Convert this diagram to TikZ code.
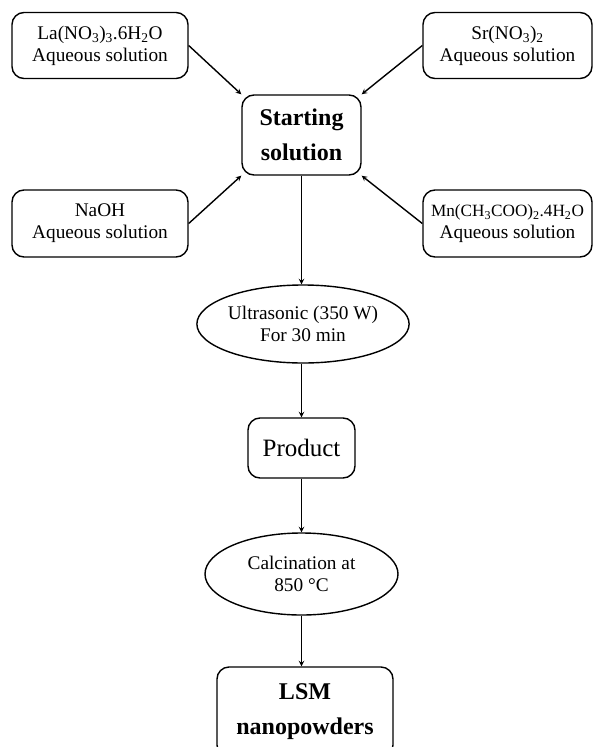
\documentclass[tikz,border=0pt]{standalone}
\usepackage{fontspec}
\setmainfont{Liberation Serif}
\usetikzlibrary{shapes.geometric, arrows, positioning}

\begin{document}
\begin{tikzpicture}[x=1pt, y=-1pt]
		\tikzstyle{Box} = [rectangle, rounded corners=12pt, align=center, text centered, draw=black, line width=1.4pt, inner sep=0pt, font=\fontsize{19.3}{22}\selectfont]
		\tikzstyle{Big} = [Box, font=\fontsize{24}{35}\selectfont\bfseries]
		\tikzstyle{Oval} = [ellipse, align=center, draw=black, line width=1.4pt, inner sep=0pt, font=\fontsize{19.3}{22}\selectfont]
		\tikzstyle{arrow} = [line width=1.4pt,->,>=stealth]
		
		\useasboundingbox (0,0) rectangle (593,747);
		
		\node (la) [Box, minimum width=176, minimum height=66] at (100,45.5) {La(NO\textsubscript{3})\textsubscript{3}.6H\textsubscript{2}O\\Aqueous solution};
		\node (sr) [Box, minimum width=169, minimum height=66] at (507.5,45.5) {Sr(NO\textsubscript{3})\textsubscript{2}\\Aqueous solution};
		\node (naoh) [Box, minimum width=176, minimum height=67] at (100,223.5) {NaOH\\Aqueous solution};
		\node (mn) [Box, minimum width=169, minimum height=67] at (507.5,223.5) {{\fontsize{17.2}{22}\selectfont Mn(CH\textsubscript{3}COO)\textsubscript{2}.4H\textsubscript{2}O}\\Aqueous solution};
		\node (start) [Big, minimum width=119, minimum height=80] at (301.5,135) {Starting\\solution};
		
		\node (ultra) [Oval, minimum width=183, minimum height=78] at (303,324) {Ultrasonic (350 W)\\For 30 min};
		\node (prod) [Box, minimum width=107, minimum height=60, font=\fontsize{25}{28}\selectfont] at (301.5,448) {Product};
		\node (calc) [Oval, minimum width=193, minimum height=82] at (301.5,574) {Calcination at\\850 °C};
		\node (lsm) [Big, minimum width=176, minimum height=90] at (305,712) {LSM\\nanopowders};
		
		\draw [arrow] (la.east) -- (start.north west);
		\draw [arrow] (sr.west) -- (start.north east);
		\draw [arrow] (naoh.east) -- (start.south west);
		\draw [arrow] (mn.west) -- (start.south east);
		\draw [arrow] (start.south) -- (start.south |- ultra.north);
		\draw [arrow] (ultra.south -| prod.north) -- (prod.north);
		\draw [arrow] (prod.south) -- (prod.south |- calc.north);
		\draw [arrow] (calc.south) -- (calc.south |- lsm.north);
\end{tikzpicture}
\end{document}
